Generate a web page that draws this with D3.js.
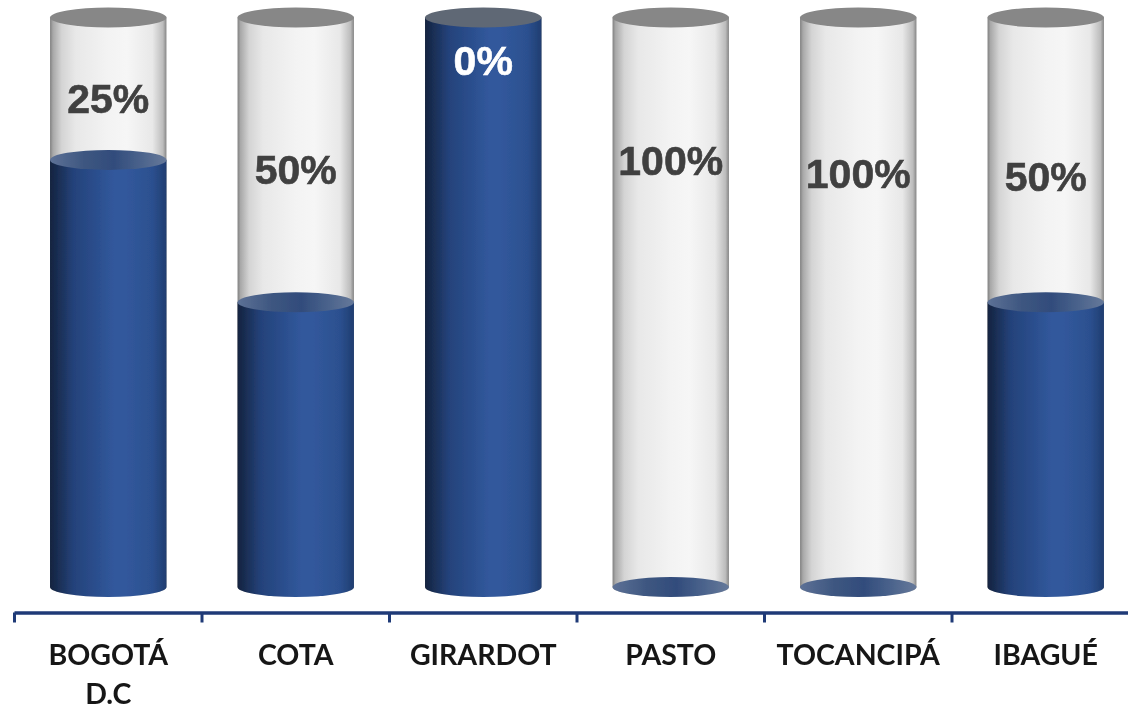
<!DOCTYPE html>
<html>
<head>
<meta charset="utf-8">
<script src="https://cdn.jsdelivr.net/npm/d3@7"></script>
<style>
    html, body { margin: 0; padding: 0; background: #fff; overflow: hidden; }
    svg { display: block; }
</style>
</head>
<body>
<div id="chart"></div>
<script>
'use strict';
const categories = ['BOGOTÁ D.C', 'COTA', 'GIRARDOT', 'PASTO', 'TOCANCIPÁ', 'IBAGUÉ'];
// share of the cylinder that is filled, and the printed label (the empty part)
const filled = [75, 50, 100, 0, 0, 50];
const labels = [25, 50, 0, 100, 100, 50];
// labels were dragged by hand in the original, so they sit at these levels on the value scale
const labelLevels = [85.8, 73.3, 92.5, 74.8, 72.5, 72.1];

const width = 1128, height = 709;
const rx = 58.2, ry = 10;

const svg = d3.select('#chart').append('svg')
    .attr('width', width)
    .attr('height', height);

const x = d3.scaleBand().domain(categories).range([14.5, 1139.5]);
const y = d3.scaleLinear().domain([0, 100]).range([587, 17.5]);
const edges = d3.scaleLinear().domain([0, categories.length]).range([14, 1139]);

const defs = svg.append('defs');

function gradient(id, stops) {
    let g = defs.append('linearGradient').attr('id', id);
    stops.forEach(function(s) {
        g.append('stop').attr('offset', s[0]).attr('stop-color', s[1]);
    });
}

gradient('glass', [[0, '#808080'], [0.025, '#a8a8a8'], [0.1, '#d4d4d4'], [0.22, '#e8e8e8'], [0.5, '#f3f3f3'], [0.66, '#f6f6f6'], [0.88, '#e8e8e8'], [0.97, '#bcbcbc'], [1, '#858585']]);
gradient('liquid', [[0, '#14233f'], [0.2, '#24427a'], [0.55, '#31589c'], [0.65, '#31589c'], [0.88, '#2c508f'], [1, '#1f3d70']]);
gradient('surface', [[0, '#5d7196'], [0.3, '#3d5680'], [0.55, '#324c7c'], [0.75, '#47608a'], [1, '#66799a']]);

let soft = defs.append('filter').attr('id', 'soft');
soft.append('feGaussianBlur').attr('stdDeviation', 0.6);
let softText = defs.append('filter').attr('id', 'softText');
softText.append('feGaussianBlur').attr('stdDeviation', 0.45);

const marks = svg.append('g').attr('filter', 'url(#soft)');

// body that ends in the lower half of an ellipse
function bodyPath(cx, top) {
    let bottom = y(0);
    return 'M' + (cx - rx) + ',' + top +
        'L' + (cx - rx) + ',' + bottom +
        'A' + rx + ',' + ry + ' 0 0 0 ' + (cx + rx) + ',' + bottom +
        'L' + (cx + rx) + ',' + top + 'Z';
}

let cyl = marks.selectAll('.cylinder')
    .data(categories)
    .enter().append('g')
    .attr('class', 'cylinder');

cyl.append('path')
    .attr('d', function(d) { return bodyPath(x(d) + x.bandwidth() / 2, y(100)); })
    .attr('fill', 'url(#glass)');

cyl.filter(function(d, i) { return filled[i] > 0; })
    .append('path')
    .attr('d', function(d) {
        return bodyPath(x(d) + x.bandwidth() / 2, y(filled[categories.indexOf(d)]));
    })
    .attr('fill', 'url(#liquid)');

cyl.filter(function(d, i) { return filled[i] < 100; })
    .append('ellipse')
    .attr('cx', function(d) { return x(d) + x.bandwidth() / 2; })
    .attr('cy', function(d) { return y(filled[categories.indexOf(d)]); })
    .attr('rx', rx)
    .attr('ry', ry)
    .attr('fill', 'url(#surface)');

// lid
cyl.append('ellipse')
    .attr('cx', function(d) { return x(d) + x.bandwidth() / 2; })
    .attr('cy', y(100))
    .attr('rx', rx)
    .attr('ry', ry)
    .attr('fill', function(d) { return filled[categories.indexOf(d)] === 100 ? '#5f6875' : '#878787'; });

svg.selectAll('.pct')
    .data(labels)
    .enter().append('text')
    .attr('class', 'pct')
    .attr('x', function(d, i) { return x(categories[i]) + x.bandwidth() / 2; })
    .attr('y', function(d, i) { return y(labelLevels[i]); })
    .attr('dy', '0.35em')
    .attr('text-anchor', 'middle')
    .attr('font-family', '"Liberation Sans", Arial, sans-serif')
    .attr('font-weight', 'bold')
    .attr('font-size', 41)
    .attr('stroke-width', 0.6)
    .attr('filter', 'url(#softText)')
    .attr('fill', function(d, i) { return filled[i] === 100 ? '#ffffff' : '#404040'; })
    .attr('stroke', function(d, i) { return filled[i] === 100 ? '#ffffff' : '#404040'; })
    .text(function(d) { return d + '%'; });

const axis = svg.append('g')
    .attr('transform', 'translate(0,' + 612.5 + ')')
    .call(d3.axisBottom(edges)
        .tickValues(d3.range(categories.length + 1))
        .tickFormat('')
        .tickSize(10)
        .tickSizeOuter(0));
axis.select('.domain').attr('stroke', '#1f3a77').attr('stroke-width', 3.5);
axis.selectAll('.tick line').attr('stroke', '#1f3a77').attr('stroke-width', 3);

svg.selectAll('.cat')
    .data(categories)
    .enter().append('text')
    .attr('class', 'cat')
    .attr('text-anchor', 'middle')
    .attr('font-family', 'Lato, sans-serif')
    .attr('font-weight', 'bold')
    .attr('font-size', 28.5)
    .attr('fill', '#141414')
    .attr('filter', 'url(#softText)')
    .each(function(d) {
        let t = d3.select(this);
        d.split(' ').forEach(function(line, i) {
            t.append('tspan')
                .attr('x', x(d) + x.bandwidth() / 2)
                .attr('y', 665 + i * 39)
                .text(line);
        });
    });
</script>
</body>
</html>
